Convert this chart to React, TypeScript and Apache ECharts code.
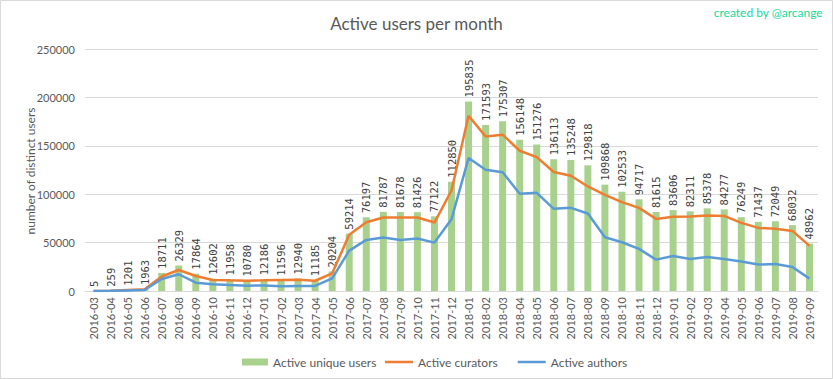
import React, { useEffect, useRef } from "react";
import * as echarts from "echarts";

const months = [
  "2016-03","2016-04","2016-05","2016-06","2016-07","2016-08","2016-09","2016-10","2016-11","2016-12",
  "2017-01","2017-02","2017-03","2017-04","2017-05","2017-06","2017-07","2017-08","2017-09","2017-10","2017-11","2017-12",
  "2018-01","2018-02","2018-03","2018-04","2018-05","2018-06","2018-07","2018-08","2018-09","2018-10","2018-11","2018-12",
  "2019-01","2019-02","2019-03","2019-04","2019-05","2019-06","2019-07","2019-08","2019-09",
];

const uniqueUsers = [
  5, 259, 1201, 1963, 18711, 26329, 17864, 12602, 11958, 10780,
  12186, 11596, 12940, 11185, 20204, 59214, 76197, 81787, 81678, 81426, 77122, 112850,
  195835, 171593, 175307, 156148, 151276, 136113, 135248, 129818, 109868, 102533, 94717, 81615,
  83606, 82311, 85378, 84277, 76249, 71437, 72049, 68032, 48962,
];

const curators = [
  0, 300, 1100, 1800, 15000, 21700, 15500, 11400, 11000, 10700,
  11000, 11400, 11700, 10600, 18300, 58000, 71000, 75900, 75900, 75900, 70700, 103800,
  181000, 159700, 161500, 144900, 138300, 123000, 119000, 108000, 99400, 91800, 85900, 74500,
  76600, 76900, 78000, 77600, 70400, 65200, 64200, 62100, 46600,
];

const authors = [
  0, 200, 600, 1000, 12400, 17300, 8600, 7000, 6200, 5500,
  5800, 4800, 5200, 5200, 13100, 41700, 52800, 55200, 52800, 54200, 50000, 74200,
  137300, 125200, 122600, 100400, 101400, 84900, 85900, 80000, 55500, 50400, 43500, 32400,
  36200, 33100, 35200, 33100, 30400, 27300, 27900, 24800, 12800,
];

const yTicks = { min: 0, max: 250000, interval: 50000 };

export default function App() {
  const ref = useRef<HTMLDivElement>(null);
  useEffect(() => {
    if (!ref.current) return;
    const chart = echarts.init(ref.current, undefined, { renderer: "svg" });
    const font = "Lato, 'Open Sans', sans-serif";
    const legendText = { fontFamily: font, fontSize: 12, color: "#595959" };
    chart.setOption({
      animation: false,
      backgroundColor: "#ffffff",
      textStyle: { fontFamily: font },
      title: {
        text: "Active users per month",
        left: "center",
        top: 10,
        textStyle: { fontFamily: font, fontSize: 17, fontWeight: "normal", color: "#595959" },
      },
      graphic: [
        {
          type: "rect",
          shape: { x: 0.5, y: 0.5, width: 832, height: 378 },
          style: { fill: "none", stroke: "#d9d9d9", lineWidth: 1 },
          silent: true,
        },
        {
          type: "text",
          right: 10,
          top: 6,
          style: { text: "created by @arcange", fill: "#16d99b", font: `12px ${font}` },
        },
        {
          type: "text",
          x: 30,
          y: 171,
          rotation: Math.PI / 2,
          silent: true,
          style: {
            text: "number of distinct users",
            fill: "#595959",
            font: `12px ${font}`,
            textAlign: "center",
            textVerticalAlign: "middle",
          },
        },
      ],
      legend: [
        {
          top: 351,
          left: 237,
          itemWidth: 26,
          itemHeight: 7,
          textStyle: legendText,
          data: [{ name: "Active unique users", icon: "rect" }],
        },
        {
          top: 351,
          left: 380,
          itemGap: 20,
          itemWidth: 28,
          itemHeight: 2.5,
          textStyle: legendText,
          data: [
            { name: "Active curators", icon: "rect" },
            { name: "Active authors", icon: "rect" },
          ],
        },
      ],
      grid: { left: 85, right: 15, top: 49, bottom: 88, containLabel: false },
      xAxis: {
        type: "category",
        data: months,
        axisLine: { lineStyle: { color: "#d9d9d9" } },
        axisTick: { show: false },
        axisLabel: { rotate: 90, fontSize: 11, color: "#595959", margin: 6, interval: 0, fontFamily: font },
      },
      yAxis: {
        type: "value",
        min: yTicks.min,
        max: yTicks.max,
        interval: yTicks.interval,
        axisLine: { show: false },
        axisTick: { show: false },
        axisLabel: {
          fontSize: 11,
          color: "#595959",
          margin: 10,
          fontFamily: font,
          formatter: (v: number) => String(v),
        },
        splitLine: { lineStyle: { color: "#d9d9d9" } },
      },
      series: [
        {
          name: "Active unique users",
          type: "bar",
          data: uniqueUsers,
          barWidth: 7,
          itemStyle: { color: "#a9d18e" },
          label: {
            show: true,
            position: "top",
            rotate: 90,
            align: "left",
            verticalAlign: "middle",
            distance: 4,
            fontSize: 10.5,
            color: "#404040",
            fontFamily: "'DejaVu Sans Mono', monospace",
          },
        },
        {
          name: "Active curators",
          type: "line",
          data: curators,
          showSymbol: false,
          symbol: "none",
          itemStyle: { color: "#ed7d31" },
          lineStyle: { color: "#ed7d31", width: 2.5 },
        },
        {
          name: "Active authors",
          type: "line",
          data: authors,
          showSymbol: false,
          symbol: "none",
          itemStyle: { color: "#5b9bd5" },
          lineStyle: { color: "#5b9bd5", width: 2.5 },
        },
      ],
    });
    return () => chart.dispose();
  }, []);
  return (
    <div
      ref={ref}
      style={{ position: "fixed", left: 0, top: 0, width: 833, height: 379 }}
    />
  );
}
